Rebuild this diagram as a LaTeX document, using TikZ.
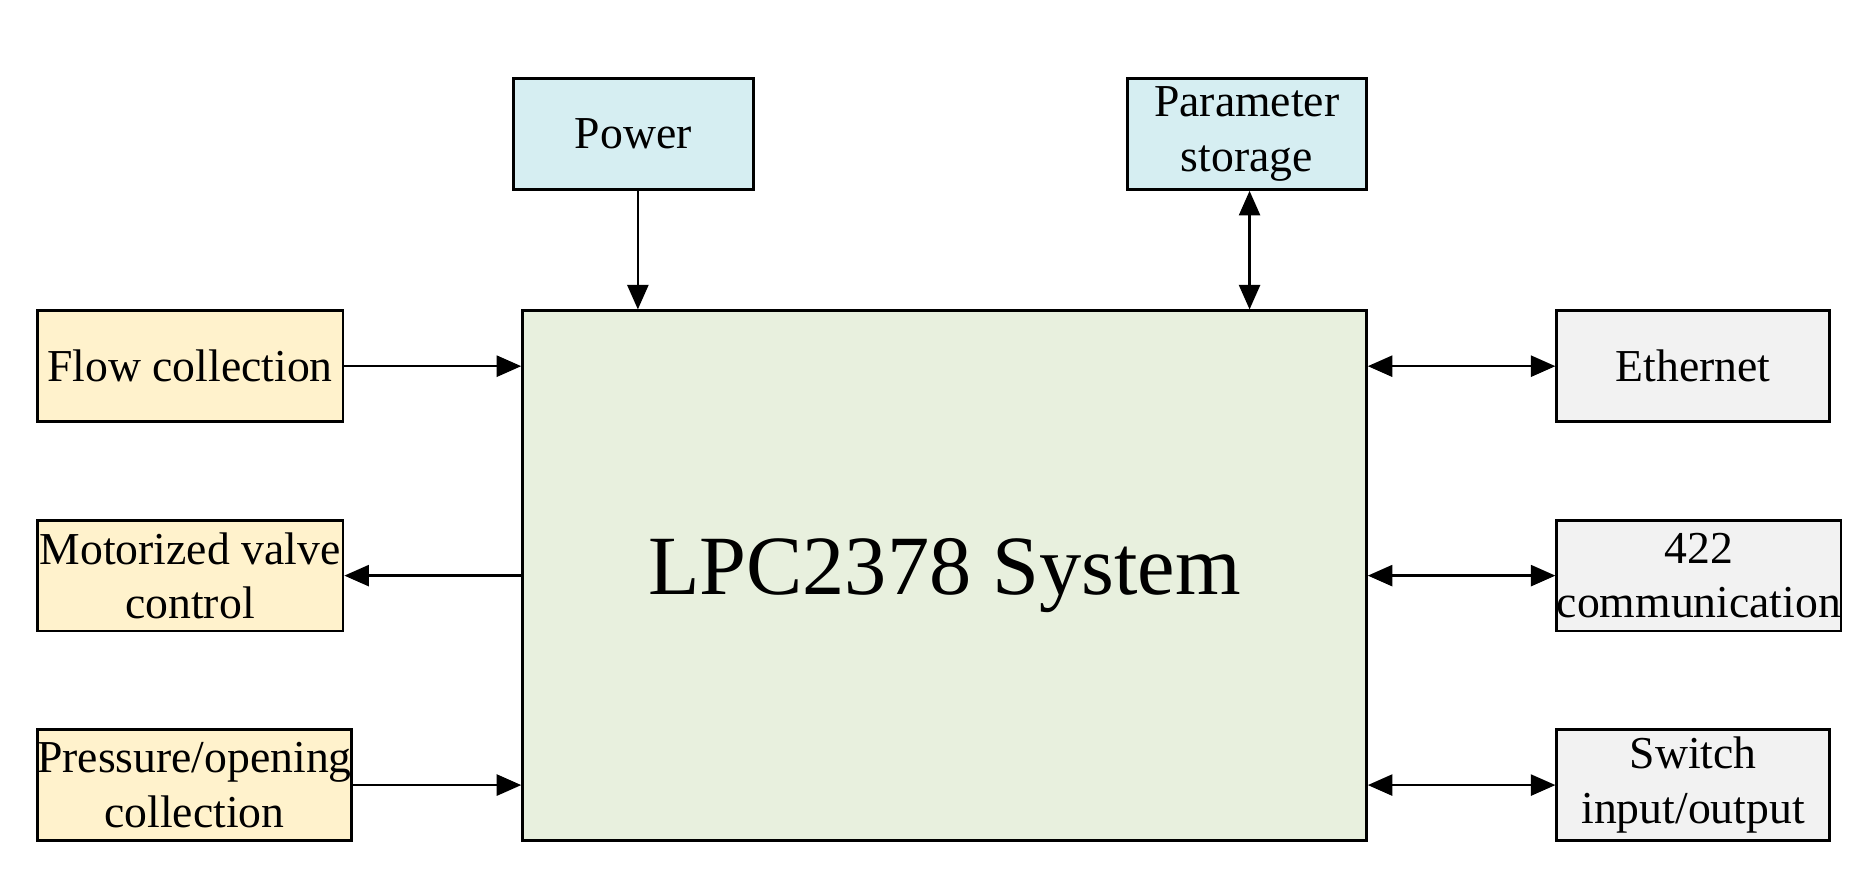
\documentclass[tikz,border=0pt]{standalone}
\usepackage{fontspec}
\setmainfont{Liberation Serif}
\usetikzlibrary{arrows.meta}
\begin{document}
\begin{tikzpicture}[x=0.0119cm,y=-0.0119cm,
 box/.style={draw,line width=0.8pt,minimum width=#1,anchor=north west,align=center,font=\fontsize{13pt}{15.5pt}\selectfont,inner sep=0pt},
 blue/.style={fill={rgb,255:red,214;green,238;blue,242}},
 yel/.style={fill={rgb,255:red,255;green,242;blue,204}},
 gry/.style={fill={rgb,255:red,242;green,242;blue,242}},
 arr/.style={-{Triangle[length=7pt,width=6pt]},line width=0.7pt},
 darr/.style={{Triangle[length=7pt,width=6pt]}-{Triangle[length=7pt,width=6pt]},line width=0.7pt}]
\useasboundingbox (0,0) rectangle (1568,740);
\node[draw,line width=0.8pt,fill={rgb,255:red,232;green,240;blue,222},minimum width=709*0.0119cm,minimum height=445*0.0119cm,anchor=north west,font=\fontsize{24pt}{28pt}\selectfont] (main) at (438,260) {LPC2378 System};
\node[box=202*0.0119cm,blue,minimum height=93*0.0119cm] (pow) at (430,65) {Power};
\node[box=201*0.0119cm,blue,minimum height=93*0.0119cm] (par) at (946,65) {Parameter\\storage};
\node[box=257*0.0119cm,yel,minimum height=93*0.0119cm] (flow) at (30,260) {Flow collection};
\node[box=257*0.0119cm,yel,minimum height=93*0.0119cm] (mot) at (30,436) {Motorized valve\\control};
\node[box=257*0.0119cm,yel,minimum height=93*0.0119cm] (pre) at (30,612) {Pressure/opening\\collection};
\node[box=229*0.0119cm,gry,minimum height=93*0.0119cm] (eth) at (1307,260) {Ethernet};
\node[box=229*0.0119cm,gry,minimum height=93*0.0119cm] (com) at (1307,436) {422\\communication};
\node[box=229*0.0119cm,gry,minimum height=93*0.0119cm] (sw) at (1307,612) {Switch\\input/output};
\draw[arr] (pow.south -| 536,0) -- (main.north -| 536,0);
\draw[darr] (par.south -| 1050,0) -- (main.north -| 1050,0);
\draw[arr] (flow.east) -- (flow.east -| main.west);
\draw[arr] (mot.east -| main.west) -- (mot.east);
\draw[arr] (pre.east) -- (pre.east -| main.west);
\draw[darr] (eth.west -| main.east) -- (eth.west);
\draw[darr] (com.west -| main.east) -- (com.west);
\draw[darr] (sw.west -| main.east) -- (sw.west);
\end{tikzpicture}
\end{document}
